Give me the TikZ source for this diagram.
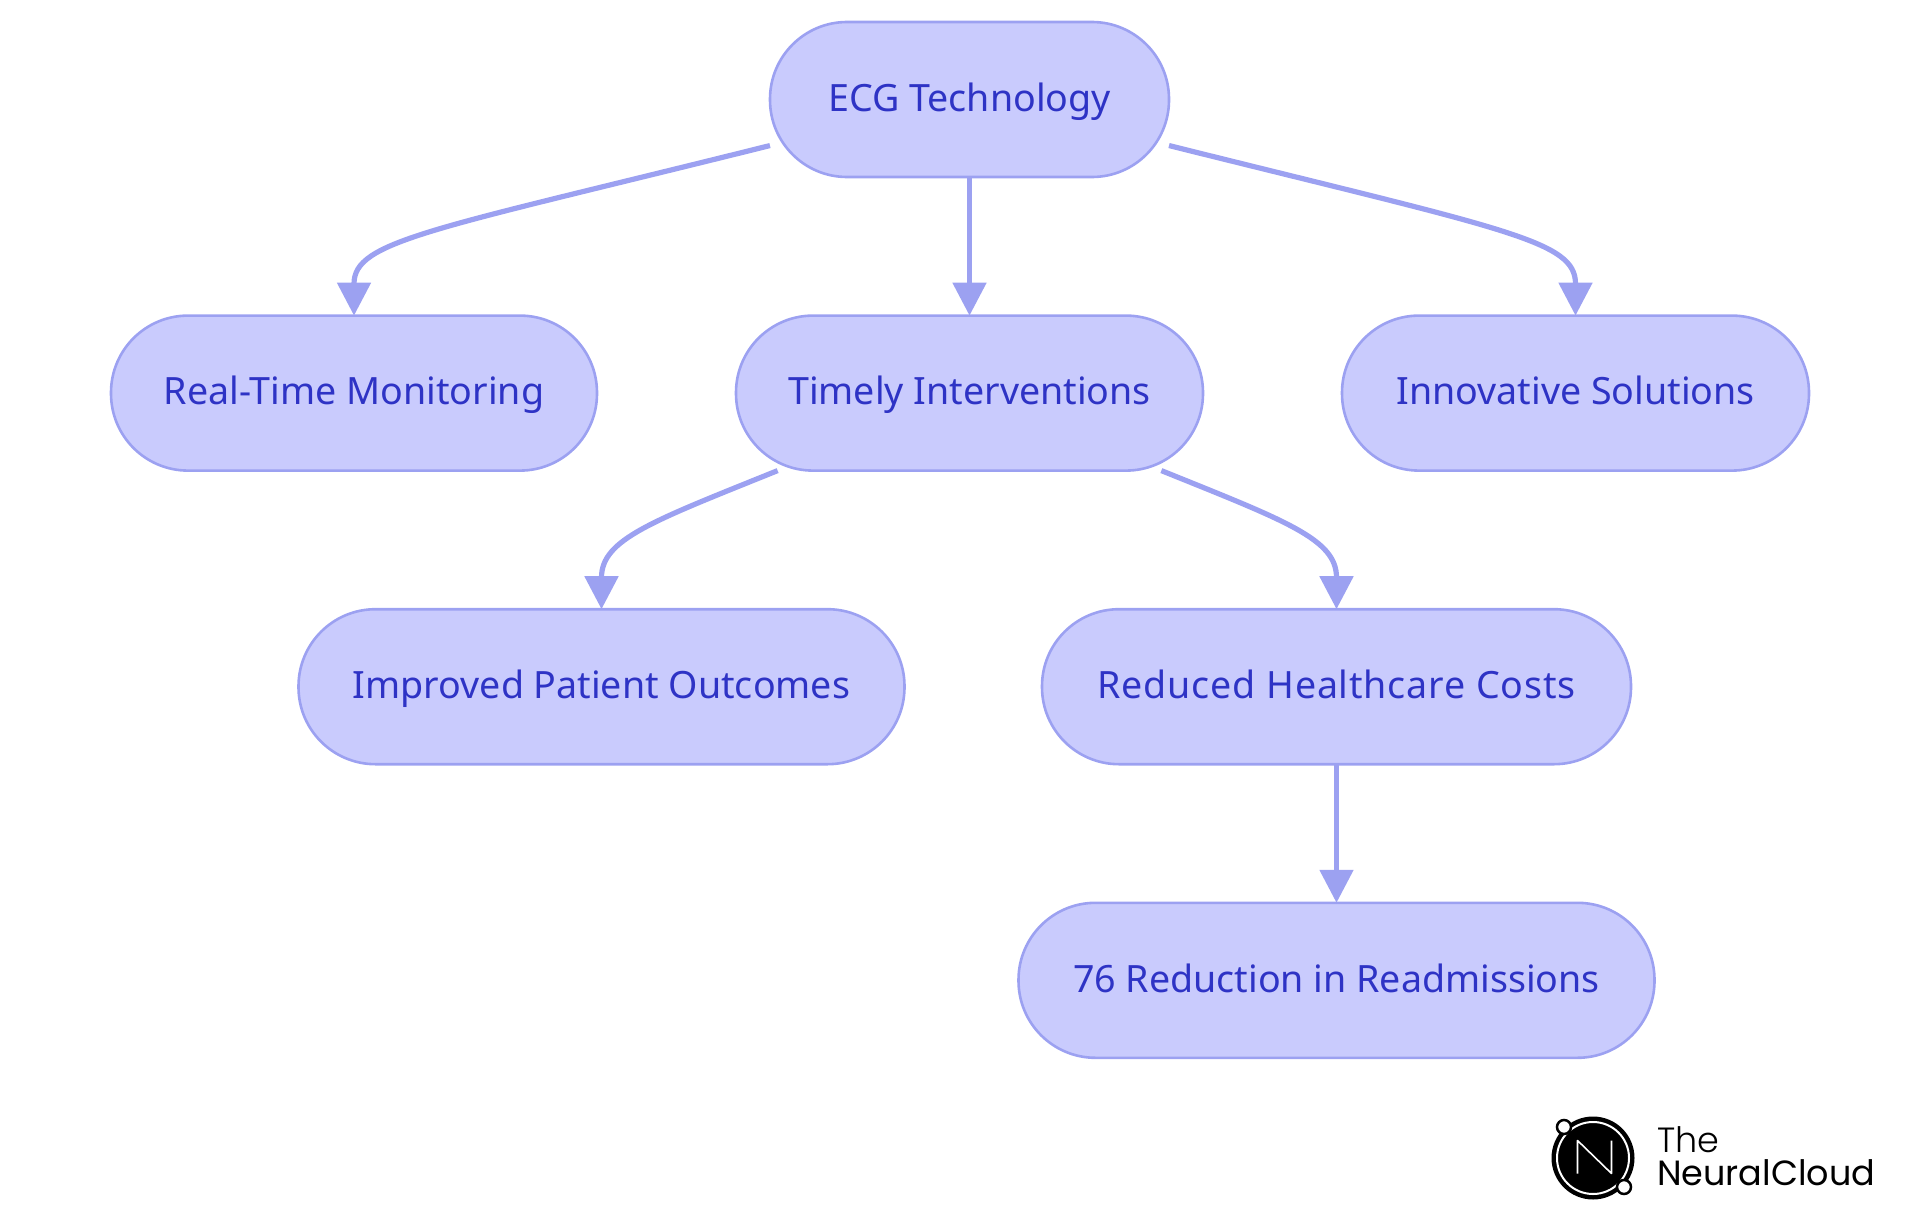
\documentclass[tikz,border=0pt]{standalone}
\usepackage{fontspec}
\setmainfont{Noto Sans}
\newfontfamily\logofont{Poppins}
\newfontfamily\logothin{Poppins Light}
\usetikzlibrary{arrows.meta,positioning}
\definecolor{boxfill}{HTML}{C9CBFD}
\definecolor{boxline}{HTML}{9CA1F1}
\definecolor{boxtext}{HTML}{2E33C5}
\begin{document}
\begin{tikzpicture}[
  x=1pt, y=-1pt,
  every node/.style={align=center, inner sep=0pt},
  topic/.style={draw=boxline, line width=2.6pt, outer sep=0pt, fill=boxfill, text=boxtext, rounded corners=77pt, minimum height=155pt, text height=27pt, text depth=3.5pt, font=\fontsize{37.6}{42}\selectfont},
  link/.style={draw=boxline, line width=5.2pt, -{Triangle[length=33pt, width=33pt]}},
  logotext/.style={anchor=base west, text=black, font=\fontsize{35}{40}\selectfont}
]
\useasboundingbox (0,0) rectangle (1920,1215);
\node[topic, minimum width=399pt] (ecg) at (969.5,99.5) {ECG Technology};
\node[topic, minimum width=467pt, below=138.6pt of ecg] (timely) {Timely Interventions};
\node[topic, minimum width=486pt, left=139pt of timely] (realtime) {Real-Time Monitoring};
\node[topic, minimum width=467pt, right=139pt of timely] (innovative) {Innovative Solutions};
\node[topic, minimum width=606pt, below=138.6pt of timely, xshift=-368pt] (improved) {Improved Patient Outcomes};
\node[topic, minimum width=589pt, below=138.6pt of timely, xshift=367pt] (reduced) {\addfontfeature{LetterSpace=2.2}Reduced Healthcare Costs};
\node[topic, minimum width=636pt, below=138.6pt of reduced] (readmit) {76 Reduction in Readmissions};

\draw[link] (ecg.193) to[out=194, in=90, out distance=350pt, in distance=75pt] (realtime.north);
\draw[link] (ecg) -- (timely);
\draw[link] (ecg.347) to[out=346, in=90, out distance=350pt, in distance=75pt] (innovative.north);
\draw[link] (timely.202.4) to[out=202, in=90, out distance=135pt, in distance=70pt] (improved.north);
\draw[link] (timely.338.3) to[out=338, in=90, out distance=135pt, in distance=70pt] (reduced.north);
\draw[link] (reduced) -- (readmit);

% logo
\fill[black] (1593,1158) circle (41.5pt);
\draw[white, line width=2pt] (1593,1158) circle (36pt);
\draw[white, line width=1.6pt, line join=round] (1577.5,1173.5) -- (1577.5,1140.5) -- (1611.5,1173.5) -- (1611.5,1140.5);
\draw[black, fill=white, line width=2.5pt] (1564,1127) circle (7pt);
\draw[black, fill=white, line width=2.5pt] (1624,1187) circle (7pt);
\node[logotext] (logothe) at (1657,1152) {\logothin The};
\node[logotext] (logoname) at (1657,1185) {\logofont NeuralCloud};
\end{tikzpicture}
\end{document}
